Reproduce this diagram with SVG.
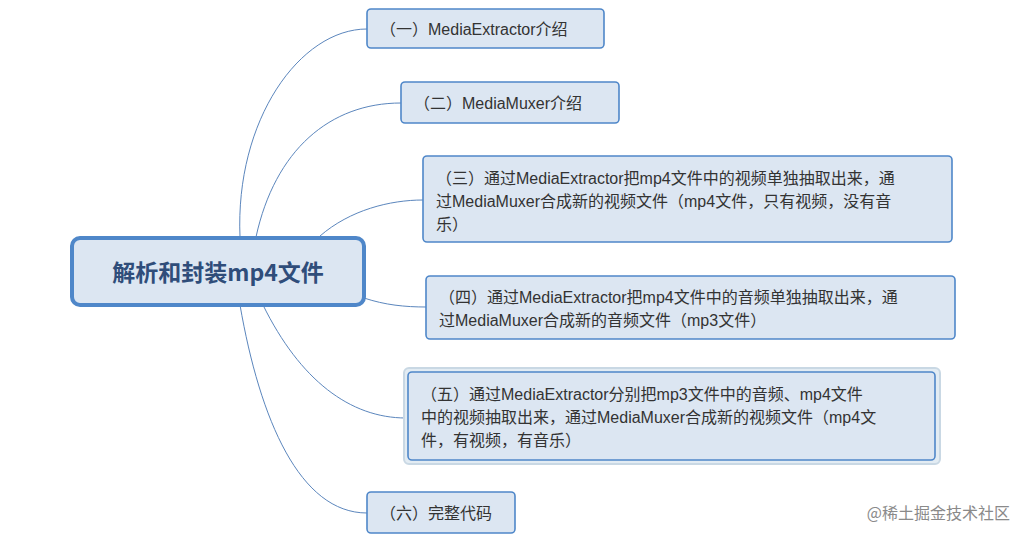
<svg xmlns="http://www.w3.org/2000/svg" width="1027" height="540" viewBox="0 0 1027 540">
<style>
.n{fill:#dce6f2;stroke:#4f87c9;stroke-width:1.6}
.t{font-family:"Liberation Sans","Noto Sans CJK SC",sans-serif;font-size:16px;fill:#333}
.c{fill:none;stroke:#5b86bd;stroke-width:1}
</style>
<rect width="1027" height="540" fill="#fff"/>
<g id="connectors">
<path class="c" d="M240,237 C235,120 300,29 367,29"/>
<path class="c" d="M256,237 C275,150 330,103 401,103"/>
<path class="c" d="M320,236 C350,210 390,200 423,200"/>
<path class="c" d="M364,298 C385,305 405,307 426,307"/>
<path class="c" d="M263,305 C300,380 350,418 406,418"/>
<path class="c" d="M240,305 C260,420 300,513 367,513"/>
</g>
<g id="root">
<rect x="72" y="238" width="292" height="67" rx="8" fill="#dce6f2" stroke="#4f87c9" stroke-width="4"/>
<text x="218" y="281" text-anchor="middle" font-family="'Noto Sans CJK SC',sans-serif" font-weight="bold" font-size="23" fill="#2f4d7a">解析和封装mp4文件</text>
</g>
<g id="n1"><rect class="n" x="367" y="9" width="237" height="39" rx="4"/>
<text class="t" x="380" y="35">（一）MediaExtractor介绍</text></g>
<g id="n2"><rect class="n" x="401" y="82" width="218" height="41" rx="4"/>
<text class="t" x="414" y="109">（二）MediaMuxer介绍</text></g>
<g id="n3"><rect class="n" x="423" y="156" width="529" height="86" rx="4"/>
<text class="t" x="436" y="184">（三）通过MediaExtractor把mp4文件中的视频单独抽取出来，通</text>
<text class="t" x="436" y="207">过MediaMuxer合成新的视频文件（mp4文件，只有视频，没有音</text>
<text class="t" x="436" y="230">乐）</text></g>
<g id="n4"><rect class="n" x="426" y="276" width="529" height="63" rx="4"/>
<text class="t" x="439" y="303">（四）通过MediaExtractor把mp4文件中的音频单独抽取出来，通</text>
<text class="t" x="439" y="326">过MediaMuxer合成新的音频文件（mp3文件）</text></g>
<g id="n5"><rect x="404" y="368" width="536" height="96" rx="5" fill="#e3ecf3" stroke="#c9d8e4" stroke-width="2"/>
<rect class="n" x="408" y="372" width="527" height="88" rx="4" fill="#c9dcea"/>
<text class="t" x="421" y="400">（五）通过MediaExtractor分别把mp3文件中的音频、mp4文件</text>
<text class="t" x="421" y="423">中的视频抽取出来，通过MediaMuxer合成新的视频文件（mp4文</text>
<text class="t" x="421" y="446">件，有视频，有音乐）</text></g>
<g id="n6"><rect class="n" x="367" y="492" width="148" height="41" rx="4"/>
<text class="t" x="380" y="519">（六）完整代码</text></g>
<text x="1010" y="519" text-anchor="end" font-family="'Noto Sans CJK SC',sans-serif" font-size="16" fill="#8a8a8a">@稀土掘金技术社区</text>
</svg>
